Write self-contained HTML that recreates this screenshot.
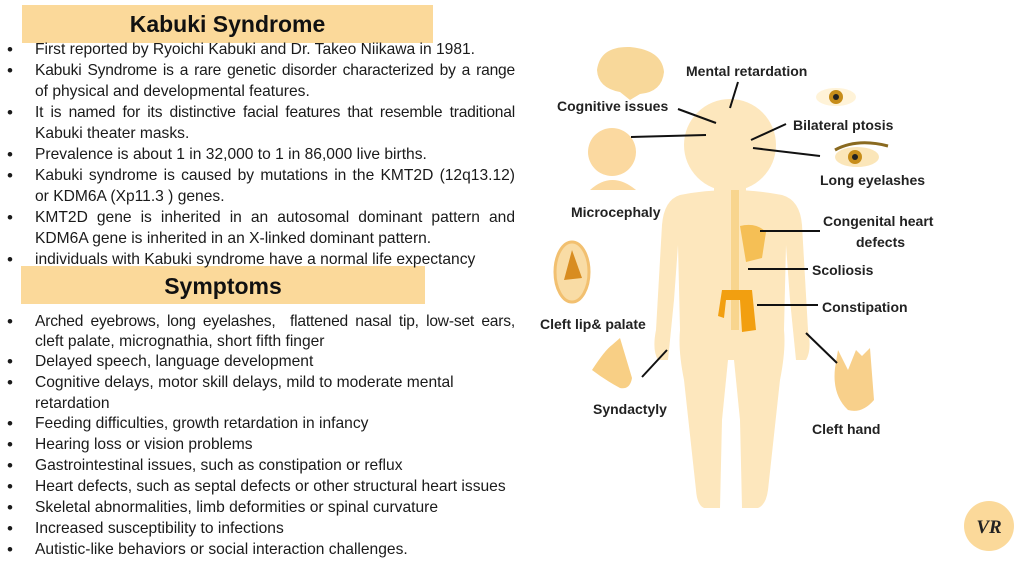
<!DOCTYPE html>
<html><head><meta charset="utf-8"><style>
body{margin:0;width:1024px;height:568px;background:#fff;position:relative;overflow:hidden;font-family:"Liberation Sans",sans-serif;color:#1a1a1a}
.hb{position:absolute;background:#fbd99a;}
.ht{position:absolute;font-weight:bold;font-size:23px;text-align:center;color:#111}
.l{position:absolute;left:35px;width:480px;font-size:15.6px;white-space:nowrap;letter-spacing:0}
.j{text-align:justify;text-align-last:justify}
.b{position:absolute;left:7px;font-size:17px}
.lab{position:absolute;font-weight:bold;font-size:14px;color:#222;white-space:nowrap}
</style></head><body>
<div class="hb" style="left:22px;top:5px;width:411px;height:38px"></div>
<div class="ht" style="left:22px;top:11px;width:411px">Kabuki Syndrome</div>
<div class="hb" style="left:21px;top:266px;width:404px;height:38px"></div>
<div class="ht" style="left:21px;top:273px;width:404px">Symptoms</div>

<div class="b" style="top:40px">•</div><div class="l" style="top:41px">First reported by Ryoichi Kabuki and Dr. Takeo Niikawa in 1981.</div>
<div class="b" style="top:61px">•</div><div class="l j" style="top:62px;letter-spacing:-0.2px">Kabuki Syndrome is a rare genetic disorder characterized by a range</div>
<div class="l" style="top:83px">of physical and developmental features.</div>
<div class="b" style="top:103px">•</div><div class="l j" style="top:104px;letter-spacing:-0.2px">It is named for its distinctive facial features that resemble traditional</div>
<div class="l" style="top:125px">Kabuki theater masks.</div>
<div class="b" style="top:145px">•</div><div class="l" style="top:146px">Prevalence is about 1 in 32,000 to 1 in 86,000 live births.</div>
<div class="b" style="top:166px">•</div><div class="l j" style="top:167px">Kabuki syndrome is caused by mutations in the KMT2D (12q13.12)</div>
<div class="l" style="top:188px">or KDM6A (Xp11.3 ) genes.</div>
<div class="b" style="top:208px">•</div><div class="l j" style="top:209px">KMT2D gene is inherited in an autosomal dominant pattern and</div>
<div class="l" style="top:230px">KDM6A gene is inherited in an X-linked dominant pattern.</div>
<div class="b" style="top:250px">•</div><div class="l" style="top:251px">individuals with Kabuki syndrome have a normal life expectancy</div>

<div class="b" style="top:312px">•</div><div class="l j" style="top:313px;letter-spacing:-0.2px">Arched eyebrows, long eyelashes,&nbsp; flattened nasal tip, low-set ears,</div>
<div class="l" style="top:333px">cleft palate, micrognathia, short fifth finger</div>
<div class="b" style="top:352px">•</div><div class="l" style="top:353px">Delayed speech, language development</div>
<div class="b" style="top:373px">•</div><div class="l" style="top:374px">Cognitive delays, motor skill delays, mild to moderate mental</div>
<div class="l" style="top:395px">retardation</div>
<div class="b" style="top:414px">•</div><div class="l" style="top:415px">Feeding difficulties, growth retardation in infancy</div>
<div class="b" style="top:435px">•</div><div class="l" style="top:436px">Hearing loss or vision problems</div>
<div class="b" style="top:456px">•</div><div class="l" style="top:457px">Gastrointestinal issues, such as constipation or reflux</div>
<div class="b" style="top:477px">•</div><div class="l" style="top:478px">Heart defects, such as septal defects or other structural heart issues</div>
<div class="b" style="top:498px">•</div><div class="l" style="top:499px">Skeletal abnormalities, limb deformities or spinal curvature</div>
<div class="b" style="top:519px">•</div><div class="l" style="top:520px">Increased susceptibility to infections</div>
<div class="b" style="top:540px">•</div><div class="l" style="top:541px">Autistic-like behaviors or social interaction challenges.</div>

<svg style="position:absolute;left:0;top:0" width="1024" height="568">
<g fill="#fde7bd">
<circle cx="730" cy="145" r="46"/>
<rect x="714" y="180" width="32" height="20"/>
<path d="M680 195 Q730 185 782 195 Q800 200 802 225 L808 330 Q812 350 806 360 L796 360 L790 300 L786 245 L784 330 Q786 350 780 380 L768 490 Q766 505 758 508 L742 508 L740 420 L734 360 L728 360 L722 420 L720 508 L704 508 Q697 505 696 490 L684 380 Q678 350 680 330 L678 245 L674 300 L668 360 L658 360 Q652 350 656 330 L662 225 Q664 200 680 195Z"/>
</g>
<path d="M735 190 L735 330" stroke="#f8d58e" stroke-width="8"/>
<path d="M740 226 Q756 222 766 232 L762 258 L746 262Z" fill="#f5bf55"/>
<path d="M722 290 L752 290 L756 330 L742 332 L740 300 L726 300 L724 318 L718 316Z" fill="#f29f10"/>
<path d="M597 70 Q600 46 630 47 Q662 50 664 72 Q662 92 640 94 L630 100 L620 92 Q598 88 597 70Z" fill="#f8d89a"/>
<circle cx="612" cy="152" r="24" fill="#fbd9a0"/>
<path d="M590 190 Q612 170 636 190Z" fill="#fbd9a0"/>
<ellipse cx="572" cy="272" rx="17" ry="30" fill="#f9dca5" stroke="#f2c070" stroke-width="3"/>
<path d="M572 250 L582 278 L564 280Z" fill="#d88c20"/>
<ellipse cx="836" cy="97" rx="20" ry="9" fill="#fff3d8"/><circle cx="836" cy="97" r="7" fill="#c78d1a"/><circle cx="836" cy="97" r="3" fill="#222"/>
<ellipse cx="857" cy="157" rx="22" ry="10" fill="#fbe6b9"/><circle cx="855" cy="157" r="7" fill="#c78d1a"/><circle cx="855" cy="157" r="3" fill="#222"/><path d="M835 150 Q857 138 888 146" stroke="#8a6a20" stroke-width="3" fill="none"/>
<path d="M592 370 Q605 350 612 345 L620 338 L632 378 Q630 390 620 388 Q605 380 592 370Z" fill="#f8cf85"/>
<path d="M835 368 L838 350 L848 370 L856 350 L862 356 L870 348 L874 400 Q862 414 848 410 Q832 395 835 368Z" fill="#f8d08b"/>
<g stroke="#111" stroke-width="2">
<line x1="738" y1="82" x2="730" y2="108"/>
<line x1="678" y1="109" x2="716" y2="123"/>
<line x1="631" y1="137" x2="706" y2="135"/>
<line x1="751" y1="140" x2="786" y2="124"/>
<line x1="753" y1="148" x2="820" y2="156"/>
<line x1="760" y1="231" x2="820" y2="231"/>
<line x1="748" y1="269" x2="808" y2="269"/>
<line x1="757" y1="305" x2="818" y2="305"/>
<line x1="806" y1="333" x2="837" y2="363"/>
<line x1="667" y1="350" x2="642" y2="377"/>
</g>
<circle cx="989" cy="526" r="25" fill="#fbd99a"/>
<text x="989" y="533" font-family="Liberation Serif" font-style="italic" font-weight="bold" font-size="19" text-anchor="middle" fill="#222">VR</text>
</svg>
<div class="lab" style="left:686px;top:63px">Mental retardation</div>
<div class="lab" style="left:557px;top:98px">Cognitive issues</div>
<div class="lab" style="left:793px;top:117px">Bilateral ptosis</div>
<div class="lab" style="left:820px;top:172px">Long eyelashes</div>
<div class="lab" style="left:571px;top:204px">Microcephaly</div>
<div class="lab" style="left:823px;top:213px">Congenital heart</div>
<div class="lab" style="left:856px;top:234px">defects</div>
<div class="lab" style="left:812px;top:262px">Scoliosis</div>
<div class="lab" style="left:822px;top:299px">Constipation</div>
<div class="lab" style="left:540px;top:316px">Cleft lip&amp; palate</div>
<div class="lab" style="left:593px;top:401px">Syndactyly</div>
<div class="lab" style="left:812px;top:421px">Cleft hand</div>
</body></html>
